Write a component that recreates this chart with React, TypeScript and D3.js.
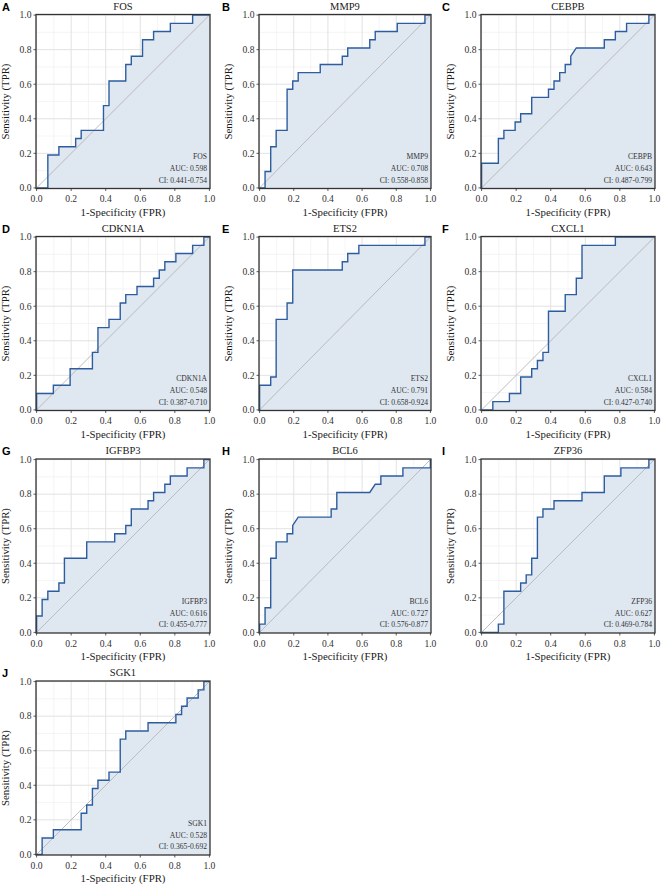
import React from "react";
import * as d3 from "d3";

const W = 662;
const H = 886;

const genes = ["FOS", "MMP9", "CEBPB", "CDKN1A", "ETS2", "CXCL1", "IGFBP3", "BCL6", "ZFP36", "SGK1"];
const letters = ["A", "B", "C", "D", "E", "F", "G", "H", "I", "J"];
const aucs = ["0.598", "0.708", "0.643", "0.548", "0.791", "0.584", "0.616", "0.727", "0.627", "0.528"];
const cis = ["0.441-0.754", "0.558-0.858", "0.487-0.799", "0.387-0.710", "0.658-0.924", "0.427-0.740", "0.455-0.777", "0.576-0.877", "0.469-0.784", "0.365-0.692"];

const fosFpr = [0, 0.065, 0.065, 0.129, 0.129, 0.226, 0.226, 0.258, 0.258, 0.387, 0.387, 0.419, 0.419, 0.516, 0.516, 0.548, 0.548, 0.613, 0.613, 0.677, 0.677, 0.774, 0.774, 0.903, 0.903, 1];
const fosTpr = [0, 0, 0.19, 0.19, 0.238, 0.238, 0.286, 0.286, 0.333, 0.333, 0.476, 0.476, 0.619, 0.619, 0.714, 0.714, 0.762, 0.762, 0.857, 0.857, 0.905, 0.905, 0.952, 0.952, 1, 1];

const mmp9Fpr = [0, 0.032, 0.032, 0.065, 0.065, 0.097, 0.097, 0.161, 0.161, 0.194, 0.194, 0.226, 0.226, 0.355, 0.355, 0.484, 0.484, 0.516, 0.516, 0.645, 0.645, 0.677, 0.677, 0.806, 0.806, 0.968, 0.968, 1];
const mmp9Tpr = [0, 0, 0.095, 0.095, 0.238, 0.238, 0.333, 0.333, 0.571, 0.571, 0.619, 0.619, 0.667, 0.667, 0.714, 0.714, 0.762, 0.762, 0.81, 0.81, 0.857, 0.857, 0.905, 0.905, 0.952, 0.952, 1, 1];

const cebpbFpr = [0, 0, 0.097, 0.097, 0.129, 0.129, 0.194, 0.194, 0.226, 0.226, 0.29, 0.29, 0.387, 0.387, 0.419, 0.419, 0.452, 0.452, 0.484, 0.484, 0.516, 0.516, 0.548, 0.71, 0.71, 0.774, 0.774, 0.839, 0.839, 0.968, 0.968, 1];
const cebpbTpr = [0, 0.143, 0.143, 0.286, 0.286, 0.333, 0.333, 0.381, 0.381, 0.429, 0.429, 0.524, 0.524, 0.571, 0.571, 0.619, 0.619, 0.667, 0.667, 0.714, 0.714, 0.762, 0.81, 0.81, 0.857, 0.857, 0.905, 0.905, 0.952, 0.952, 1, 1];

const cdkn1aFpr = [0, 0, 0.097, 0.097, 0.194, 0.194, 0.323, 0.323, 0.355, 0.355, 0.419, 0.419, 0.484, 0.484, 0.516, 0.516, 0.581, 0.581, 0.677, 0.677, 0.71, 0.71, 0.742, 0.742, 0.806, 0.806, 0.903, 0.903, 0.968, 0.968, 1];
const cdkn1aTpr = [0, 0.095, 0.095, 0.143, 0.143, 0.238, 0.238, 0.333, 0.333, 0.476, 0.476, 0.524, 0.524, 0.619, 0.619, 0.667, 0.667, 0.714, 0.714, 0.762, 0.762, 0.81, 0.81, 0.857, 0.857, 0.905, 0.905, 0.952, 0.952, 1, 1];

const ets2Fpr = [0, 0, 0.065, 0.065, 0.097, 0.097, 0.161, 0.161, 0.194, 0.194, 0.484, 0.484, 0.516, 0.516, 0.581, 0.581, 0.968, 0.968, 1];
const ets2Tpr = [0, 0.143, 0.143, 0.19, 0.19, 0.524, 0.524, 0.619, 0.619, 0.81, 0.81, 0.857, 0.857, 0.905, 0.905, 0.952, 0.952, 1, 1];

const cxcl1Fpr = [0, 0.065, 0.065, 0.161, 0.161, 0.226, 0.226, 0.29, 0.29, 0.323, 0.323, 0.355, 0.355, 0.387, 0.387, 0.484, 0.484, 0.548, 0.548, 0.581, 0.581, 0.774, 0.774, 1];
const cxcl1Tpr = [0, 0, 0.048, 0.048, 0.095, 0.095, 0.19, 0.19, 0.238, 0.238, 0.286, 0.286, 0.333, 0.333, 0.571, 0.571, 0.667, 0.667, 0.762, 0.762, 0.952, 0.952, 1, 1];

const igfbp3Fpr = [0, 0, 0.032, 0.032, 0.065, 0.065, 0.129, 0.129, 0.161, 0.161, 0.29, 0.29, 0.452, 0.452, 0.516, 0.516, 0.548, 0.548, 0.645, 0.645, 0.677, 0.677, 0.742, 0.742, 0.774, 0.774, 0.871, 0.871, 0.968, 0.968, 1];
const igfbp3Tpr = [0, 0.095, 0.095, 0.19, 0.19, 0.238, 0.238, 0.286, 0.286, 0.429, 0.429, 0.524, 0.524, 0.571, 0.571, 0.619, 0.619, 0.714, 0.714, 0.762, 0.762, 0.81, 0.81, 0.857, 0.857, 0.905, 0.905, 0.952, 0.952, 1, 1];

const bcl6Fpr = [0, 0, 0.032, 0.032, 0.065, 0.065, 0.097, 0.097, 0.161, 0.161, 0.194, 0.194, 0.226, 0.419, 0.419, 0.452, 0.452, 0.645, 0.677, 0.71, 0.71, 0.839, 0.839, 1, 1];
const bcl6Tpr = [0, 0.048, 0.048, 0.143, 0.143, 0.429, 0.429, 0.524, 0.524, 0.571, 0.571, 0.619, 0.667, 0.667, 0.714, 0.714, 0.81, 0.81, 0.857, 0.857, 0.905, 0.905, 0.952, 0.952, 1];

const zfp36Fpr = [0, 0.097, 0.097, 0.129, 0.129, 0.226, 0.226, 0.258, 0.258, 0.29, 0.29, 0.323, 0.323, 0.355, 0.355, 0.419, 0.419, 0.581, 0.581, 0.71, 0.71, 0.806, 0.806, 0.968, 0.968, 1];
const zfp36Tpr = [0, 0, 0.048, 0.048, 0.238, 0.238, 0.286, 0.286, 0.333, 0.333, 0.429, 0.429, 0.667, 0.667, 0.714, 0.714, 0.762, 0.762, 0.81, 0.81, 0.905, 0.905, 0.952, 0.952, 1, 1];

const sgk1Fpr = [0, 0.032, 0.032, 0.097, 0.097, 0.258, 0.258, 0.29, 0.29, 0.323, 0.323, 0.355, 0.355, 0.419, 0.419, 0.484, 0.484, 0.516, 0.516, 0.645, 0.645, 0.806, 0.806, 0.839, 0.839, 0.871, 0.871, 0.935, 0.935, 0.968, 0.968, 1];
const sgk1Tpr = [0, 0, 0.095, 0.095, 0.143, 0.143, 0.238, 0.238, 0.286, 0.286, 0.381, 0.381, 0.429, 0.429, 0.476, 0.476, 0.667, 0.667, 0.714, 0.714, 0.762, 0.762, 0.81, 0.81, 0.857, 0.857, 0.905, 0.905, 0.952, 0.952, 1, 1];

const fprs = [fosFpr, mmp9Fpr, cebpbFpr, cdkn1aFpr, ets2Fpr, cxcl1Fpr, igfbp3Fpr, bcl6Fpr, zfp36Fpr, sgk1Fpr];
const tprs = [fosTpr, mmp9Tpr, cebpbTpr, cdkn1aTpr, ets2Tpr, cxcl1Tpr, igfbp3Tpr, bcl6Tpr, zfp36Tpr, sgk1Tpr];

const tickValues = [0, 0.2, 0.4, 0.6, 0.8, 1.0];
const minorValues = [0.1, 0.3, 0.5, 0.7, 0.9];

const colX = [[36, 210], [259, 431], [481, 655]];
const colLetterX = [2, 222, 442];
const rowTop = [14.5, 236.5, 459, 681];
const plotH = 174;

const serif = "'Liberation Serif', 'Times New Roman', serif";
const LINE = "#2d5d9f";
const FILL = "#dfe7f1";

function Panel({ i }: { i: number }) {
  const col = i % 3;
  const row = Math.floor(i / 3);
  const [x0, x1] = colX[col];
  const y0 = rowTop[row];
  const y1 = y0 + plotH;
  const pad = 0.6;
  const x = d3.scaleLinear().domain([0, 1]).range([x0 + pad, x1 - pad]);
  const y = d3.scaleLinear().domain([0, 1]).range([y1 - pad, y0 + pad]);
  const pts: [number, number][] = fprs[i].map((f, k) => [f, tprs[i][k]]);
  const line = d3.line<[number, number]>().x((d) => x(d[0])).y((d) => y(d[1]));
  const area = d3
    .area<[number, number]>()
    .x((d) => x(d[0]))
    .y0(y(0))
    .y1((d) => y(d[1]));
  const clipId = `clip${i}`;
  return (
    <g>
      <defs>
        <clipPath id={clipId}>
          <rect x={x0} y={y0} width={x1 - x0} height={y1 - y0} />
        </clipPath>
      </defs>
      <rect x={x0} y={y0} width={x1 - x0} height={y1 - y0} fill="#ffffff" />
      {minorValues.map((v) => (
        <g key={"m" + v}>
          <line x1={x(v)} x2={x(v)} y1={y0} y2={y1} stroke="#eeeeee" strokeWidth={0.6} />
          <line x1={x0} x2={x1} y1={y(v)} y2={y(v)} stroke="#eeeeee" strokeWidth={0.6} />
        </g>
      ))}
      {tickValues.map((v) => (
        <g key={"g" + v}>
          <line x1={x(v)} x2={x(v)} y1={y0} y2={y1} stroke="#e2e2e2" strokeWidth={1} />
          <line x1={x0} x2={x1} y1={y(v)} y2={y(v)} stroke="#e2e2e2" strokeWidth={1} />
        </g>
      ))}
      <g clipPath={`url(#${clipId})`}>
        <path d={area(pts) || ""} fill={FILL} />
        <line x1={x(0)} y1={y(0)} x2={x(1)} y2={y(1)} stroke="#b5b5b5" strokeWidth={0.9} />
        <path d={line(pts) || ""} fill="none" stroke={LINE} strokeWidth={1.4} />
      </g>
      <rect x={x0} y={y0} width={x1 - x0} height={y1 - y0} fill="none" stroke="#333333" strokeWidth={1.3} />
      {tickValues.map((v) => (
        <g key={"t" + v}>
          <line x1={x(v)} x2={x(v)} y1={y1} y2={y1 + 2.5} stroke="#333333" strokeWidth={0.8} />
          <text x={x(v)} y={y1 + 13.8} textAnchor="middle" fontFamily={serif} fontSize={9.6} fill="#333333">
            {v.toFixed(1)}
          </text>
          <line x1={x0 - 2.5} x2={x0} y1={y(v)} y2={y(v)} stroke="#333333" strokeWidth={0.8} />
          <text x={x0 - 4.5} y={y(v) + 3.3} textAnchor="end" fontFamily={serif} fontSize={9.6} fill="#333333">
            {v.toFixed(1)}
          </text>
        </g>
      ))}
      <text x={(x0 + x1) / 2} y={y0 - 5} textAnchor="middle" fontFamily={serif} fontSize={10.5} fill="#1a1a1a">
        {genes[i]}
      </text>
      <text
        x={(x0 + x1) / 2}
        y={y1 + 27}
        textAnchor="middle"
        fontFamily={serif}
        fontSize={10.8}
        fill="#1a1a1a"
      >
        1-Specificity (FPR)
      </text>
      <text
        transform={`translate(${x0 - 27.5},${(y0 + y1) / 2}) rotate(-90)`}
        textAnchor="middle"
        fontFamily={serif}
        fontSize={10.8}
        fill="#1a1a1a"
      >
        Sensitivity (TPR)
      </text>
      <text x={x1 - 3} y={y1 - 29.5} textAnchor="end" fontFamily={serif} fontSize={7.6} fill="#333333">
        {genes[i]}
      </text>
      <text x={x1 - 3} y={y1 - 17.5} textAnchor="end" fontFamily={serif} fontSize={7.6} fill="#333333">
        {`AUC: ${aucs[i]}`}
      </text>
      <text x={x1 - 3} y={y1 - 5.8} textAnchor="end" fontFamily={serif} fontSize={7.6} fill="#333333">
        {`CI: ${cis[i]}`}
      </text>
      <text
        x={colLetterX[col]}
        y={y0 - 4}
        fontFamily="'Liberation Sans', Arial, sans-serif"
        fontWeight="bold"
        fontSize={11}
        fill="#000000"
      >
        {letters[i]}
      </text>
    </g>
  );
}

export default function App() {
  return (
    <svg
      width={W}
      height={H}
      viewBox={`0 0 ${W} ${H}`}
      style={{ position: "absolute", left: 0, top: 0, background: "#ffffff" }}
    >
      <rect width={W} height={H} fill="#ffffff" />
      {genes.map((g, i) => (
        <Panel key={g} i={i} />
      ))}
    </svg>
  );
}
